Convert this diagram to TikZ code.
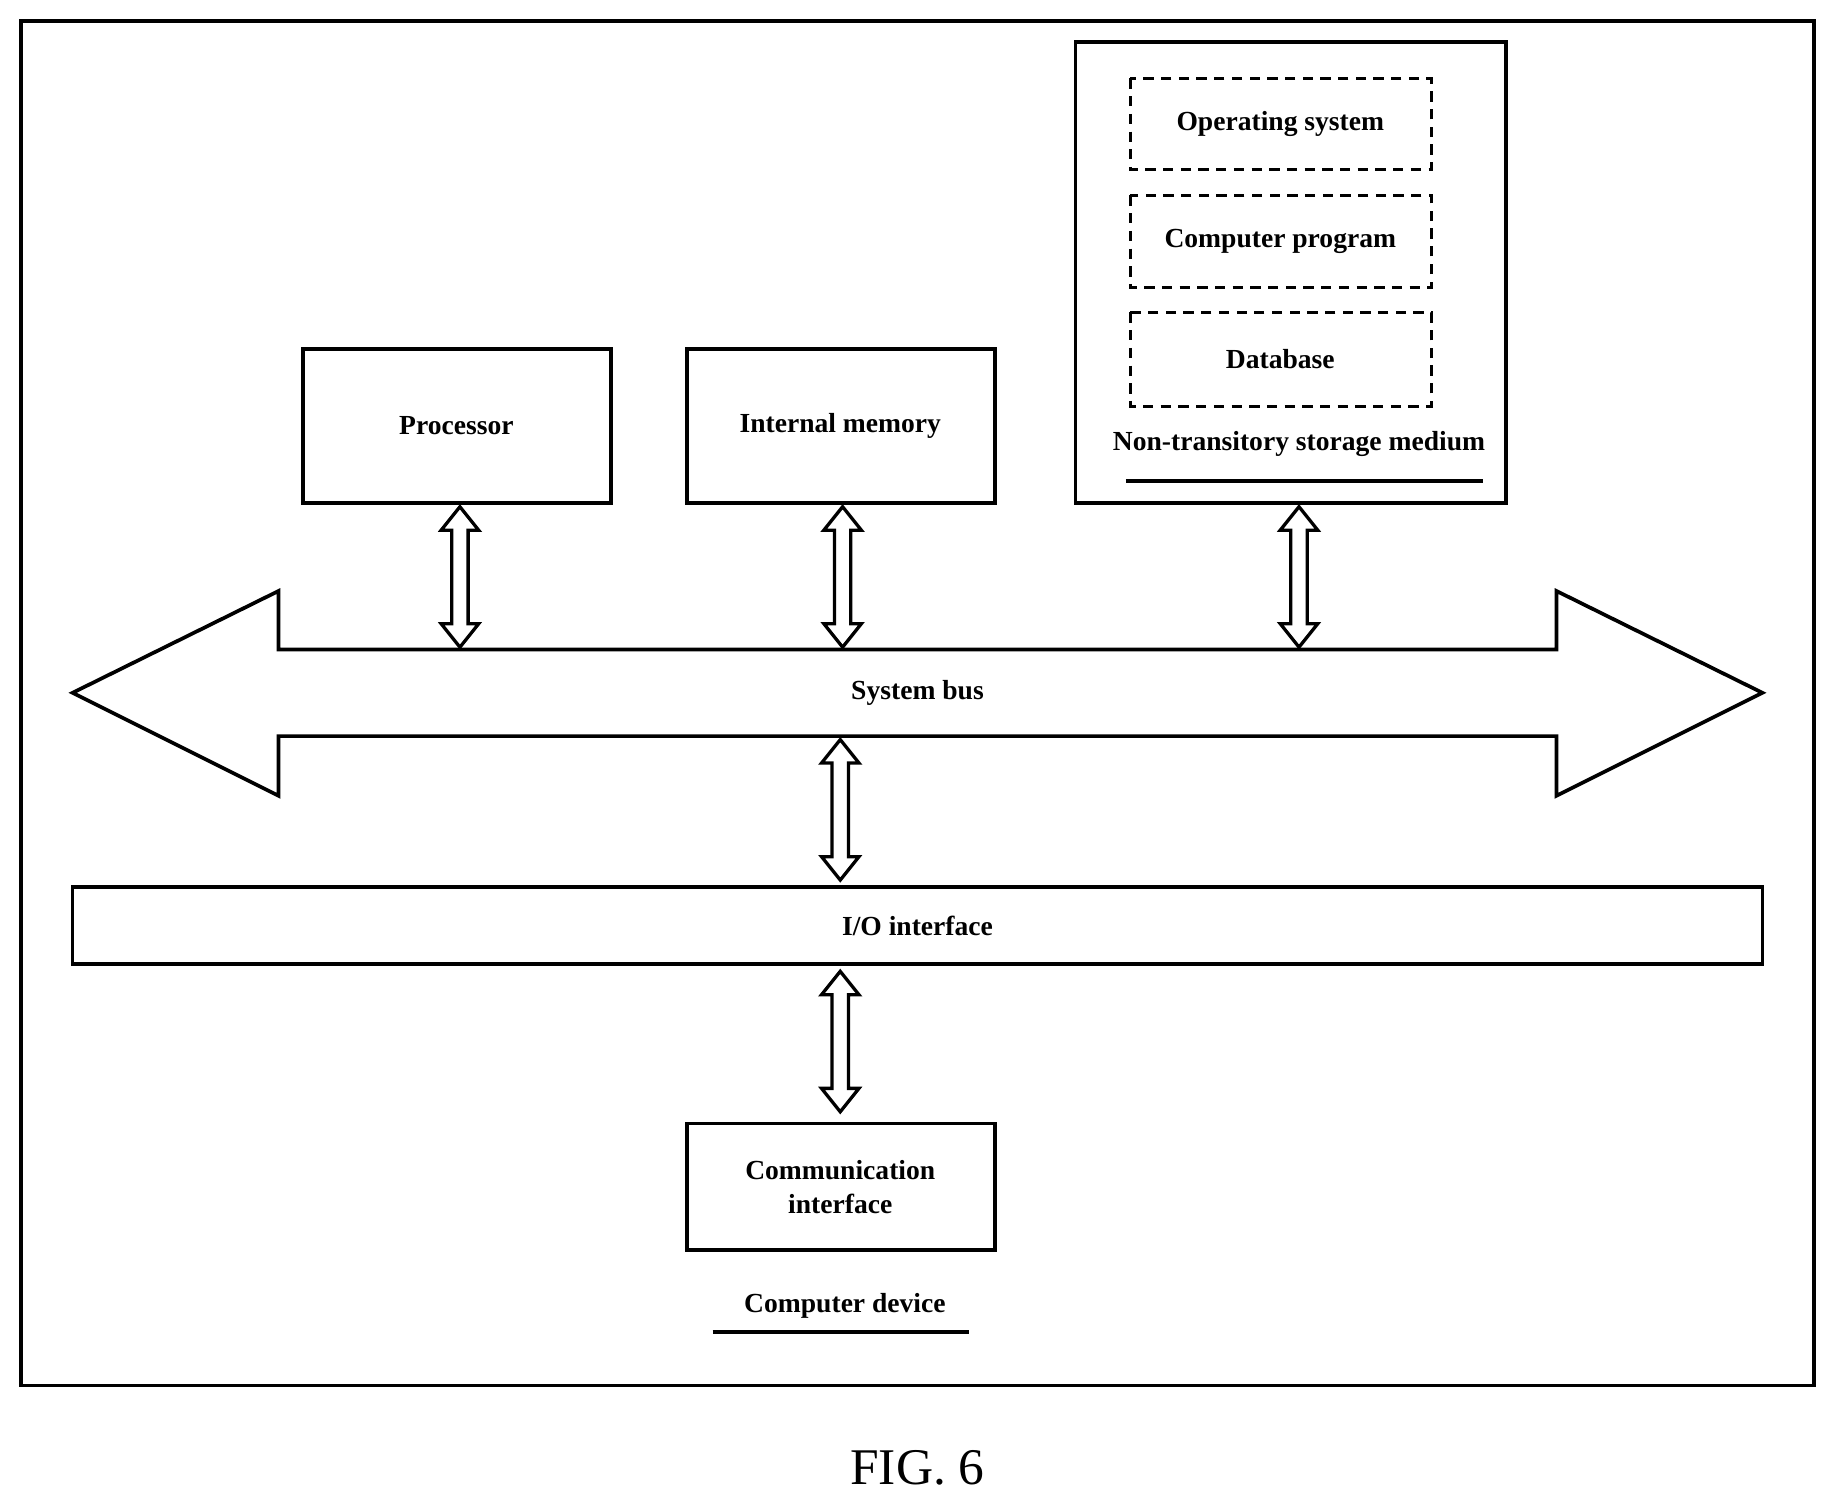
\documentclass[tikz,border=0pt]{standalone}
\usepackage{fontspec}
\setmainfont{Liberation Serif}
\begin{document}
\begin{tikzpicture}[x=0.01cm,y=-0.01cm,
  box/.style={draw,line width=0.9pt},
  dbox/.style={draw,line width=0.7pt,dash pattern=on 2.5pt off 1.8pt},
  lbl/.style={font=\fontsize{6.7pt}{8.3pt}\selectfont\bfseries,align=center},
  hollow/.style={draw,line width=0.8pt,fill=white}]
\useasboundingbox (0,0) rectangle (1568,1287);
\newcommand\dblarr[3]{%
  \draw[hollow] (#1,#2) -- (#1+16,#2+20) -- (#1+7,#2+20) -- (#1+7,#3-20) -- (#1+16,#3-20)
   -- (#1,#3) -- (#1-16,#3-20) -- (#1-7,#3-20) -- (#1-7,#2+20) -- (#1-16,#2+20) -- cycle;}
\draw[box] (18,18) rectangle (1550,1184);
\draw[box] (259,298) rectangle (522,430); \node[lbl] (proc) at (390,364) {Processor};
\draw[box] (587,298) rectangle (850,430); \node[lbl] (mem) at (718,364) {Internal memory};
\draw[box] (919,36) rectangle (1287,430);
\draw[dbox] (966,67) rectangle (1223,145); \node[lbl] (os) at (1094,106) {Operating system};
\draw[dbox] (966,167) rectangle (1223,246); \node[lbl] (cp) at (1094,206) {Computer program};
\draw[dbox] (966,267) rectangle (1223,347); \node[lbl] (db) at (1094,307) {Database};
\node[lbl] (nts) at (1110,379) {Non-transitory storage medium};
\draw[line width=0.9pt] (962,411) -- (1267,411);
\draw[hollow,line width=0.9pt] (62,592) -- (238,505) -- (238,555) -- (1330,555) -- (1330,505) -- (1506,592)
  -- (1330,680) -- (1330,629) -- (238,629) -- (238,680) -- cycle;
\node[lbl] (bus) at (784,592) {System bus};
\dblarr{393}{433}{553}
\dblarr{720}{433}{553}
\dblarr{1110}{433}{553}
\dblarr{718}{632}{752}
\draw[box] (62,758) rectangle (1506,824); \node[lbl] (io) at (784,791) {I/O interface};
\dblarr{718}{830}{950}
\draw[box] (587,960) rectangle (850,1068); \node[lbl] (comm) at (718,1014) {Communication\\interface};
\node[lbl] (dev) at (722,1116) {Computer device};
\draw[line width=0.9pt] (609,1138) -- (828,1138);
\node[font=\fontsize{12.5pt}{14pt}\selectfont] (fig) at (784,1254) {FIG. 6};
\end{tikzpicture}
\end{document}
